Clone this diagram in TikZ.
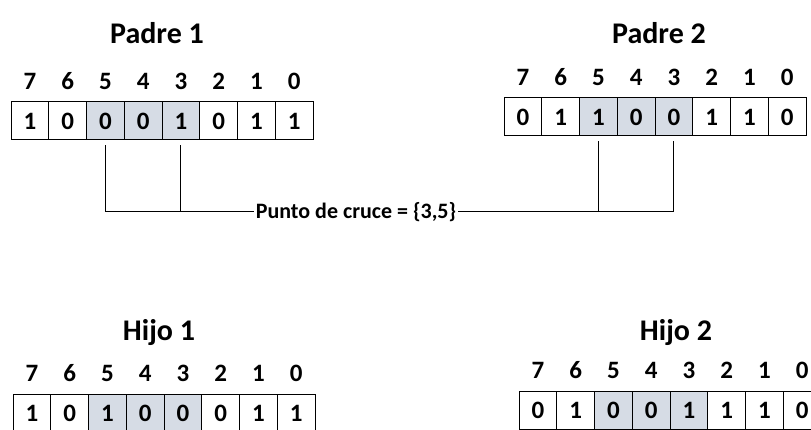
\documentclass[tikz,border=0pt]{standalone}
\usepackage{fontspec}
\setmainfont{Carlito}
\usepackage{xcolor}
\definecolor{selgris}{RGB}{214,220,229}
\usepackage{tikz}
\usetikzlibrary{positioning}

\begin{document}
\begin{tikzpicture}[x=1pt, y=-1pt,
    bit/.style={rectangle, draw, line width=1pt, minimum width=37.75pt,
      minimum height=38pt, inner sep=0pt, font=\fontsize{25}{25}\selectfont\bfseries},
    idx/.style={inner sep=0pt, font=\fontsize{25}{25}\selectfont\bfseries},
    titulo/.style={inner sep=0pt, font=\fontsize{30}{30}\selectfont\bfseries},
    cruce/.style={inner sep=2pt, font=\fontsize{22}{22}\selectfont\bfseries},
    linea/.style={line width=1pt}
]
\useasboundingbox[fill=white] (0,0) rectangle (811,430);

% Padre 1
\node[titulo] (padre1) at (157,33) {Padre 1};
\foreach \b/\f [count=\i from 0] in {1/white,0/white,0/selgris,0/selgris,1/selgris,0/white,1/white,1/white}{
  \pgfmathtruncatemacro\k{7-\i}
  \node[bit, fill=\f] (p1c\k) at (11+18.9+37.75*\i, 121) {\b};
  \node[idx, above=12pt of p1c\k] (p1i\k) {\k};
}

% Padre 2
\node[titulo] (padre2) at (659,33) {Padre 2};
\foreach \b/\f [count=\i from 0] in {0/white,1/white,1/selgris,0/selgris,0/selgris,1/white,1/white,0/white}{
  \pgfmathtruncatemacro\k{7-\i}
  \node[bit, fill=\f] (p2c\k) at (504+18.9+37.75*\i, 117) {\b};
  \node[idx, above=12pt of p2c\k] (p2i\k) {\k};
}

% punto de cruce
\node[cruce] (pc) at (356,212) {Punto de cruce = \{3,5\}};
\draw[linea] ([yshift=-5pt]p1c5.south) |- (pc.west);
\draw[linea] ([yshift=-5pt]p1c3.south) -- (p1c3 |- pc.west);
\draw[linea] ([yshift=-5pt]p2c3.south) |- (pc.east);
\draw[linea] ([yshift=-5pt]p2c5.south) -- (p2c5 |- pc.east);

% Hijo 1
\node[titulo] (hijo1) at (159,333) {Hijo 1};
\foreach \b/\f [count=\i from 0] in {1/white,0/white,1/selgris,0/selgris,0/selgris,0/white,1/white,1/white}{
  \pgfmathtruncatemacro\k{7-\i}
  \node[bit, fill=\f] (h1c\k) at (13+18.9+37.75*\i, 413) {\b};
  \node[idx, above=12pt of h1c\k] (h1i\k) {\k};
}

% Hijo 2
\node[titulo] (hijo2) at (676,333) {Hijo 2};
\foreach \b/\f [count=\i from 0] in {0/white,1/white,0/selgris,0/selgris,1/selgris,1/white,1/white,0/white}{
  \pgfmathtruncatemacro\k{7-\i}
  \node[bit, fill=\f] (h2c\k) at (519+18.9+37.75*\i, 410) {\b};
  \node[idx, above=12pt of h2c\k] (h2i\k) {\k};
}
\end{tikzpicture}
\end{document}
